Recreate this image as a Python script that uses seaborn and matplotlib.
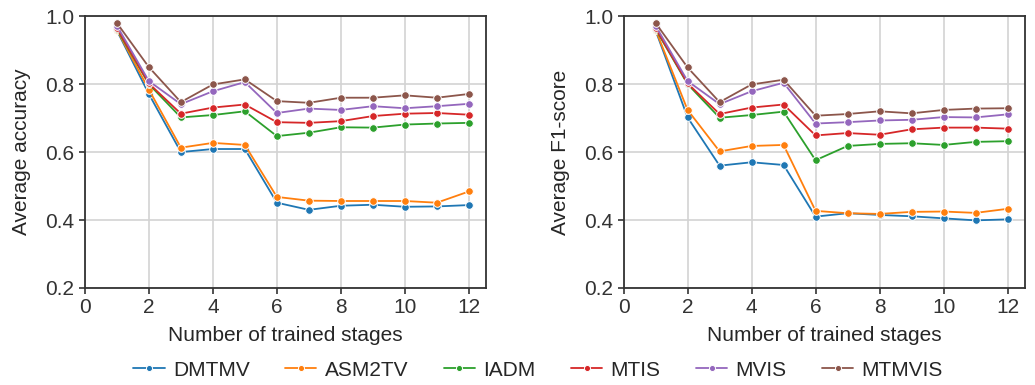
import matplotlib.pyplot as plt
import seaborn as sns
import pandas as pd

# Values
stages = [1, 2, 3, 4, 5, 6, 7, 8, 9, 10, 11, 12]
methods = ['DMTMV', 'ASM2TV', 'IADM', 'MTIS', 'MVIS', 'MTMVIS']

acc_dmtmv = [0.958, 0.771, 0.600, 0.609, 0.609, 0.451, 0.430, 0.442, 0.445, 0.439, 0.440, 0.444]
acc_asm2tv = [0.960, 0.784, 0.613, 0.627, 0.621, 0.468, 0.457, 0.456, 0.456, 0.456, 0.451, 0.484]
acc_iadm = [0.962, 0.800, 0.702, 0.709, 0.720, 0.647, 0.657, 0.673, 0.672, 0.681, 0.684, 0.686]
acc_mtis = [0.965, 0.802, 0.713, 0.731, 0.740, 0.688, 0.686, 0.691, 0.706, 0.713, 0.715, 0.710]
acc_mvis = [0.972, 0.809, 0.741, 0.779, 0.806, 0.715, 0.728, 0.724, 0.735, 0.729, 0.735, 0.742]
acc_mtmvis = [0.980, 0.850, 0.747, 0.799, 0.814, 0.750, 0.745, 0.760, 0.760, 0.767, 0.760, 0.771]

f1_dmtmv = [0.958, 0.702, 0.560, 0.570, 0.562, 0.410, 0.420, 0.415, 0.411, 0.405, 0.399, 0.402]
f1_asm2tv = [0.960, 0.724, 0.602, 0.618, 0.621, 0.427, 0.420, 0.418, 0.424, 0.425, 0.421, 0.433]
f1_iadm = [0.962, 0.800, 0.701, 0.709, 0.719, 0.576, 0.618, 0.624, 0.626, 0.621, 0.630, 0.632]
f1_mtis = [0.965, 0.802, 0.712, 0.731, 0.740, 0.649, 0.656, 0.651, 0.667, 0.672, 0.672, 0.669]
f1_mvis = [0.972, 0.809, 0.741, 0.779, 0.804, 0.684, 0.688, 0.693, 0.695, 0.703, 0.702, 0.711]
f1_mtmvis = [0.980, 0.849, 0.747, 0.799, 0.813, 0.707, 0.712, 0.720, 0.714, 0.724, 0.728, 0.729]

acc_values = [acc_dmtmv, acc_asm2tv, acc_iadm, acc_mtis, acc_mvis, acc_mtmvis]
f1_values = [f1_dmtmv, f1_asm2tv, f1_iadm, f1_mtis, f1_mvis, f1_mtmvis]


def to_long(series_list):
    rows = []
    for name, vals in zip(methods, series_list):
        for s, v in zip(stages, vals):
            rows.append({'Stage': s, 'Value': v, 'Method': name})
    return pd.DataFrame(rows)


acc_df = to_long(acc_values)
f1_df = to_long(f1_values)

sns.set_style('ticks')
plt.rcParams['font.family'] = ['Liberation Sans', 'DejaVu Sans']
plt.rcParams['axes.edgecolor'] = '#333333'
plt.rcParams['xtick.color'] = '#333333'
plt.rcParams['ytick.color'] = '#333333'

fig = plt.figure(figsize=(10.35, 3.85), dpi=100)
ax1 = fig.add_axes([0.082, 0.252, 0.388, 0.706])
ax2 = fig.add_axes([0.6025, 0.252, 0.388, 0.706])

palette = sns.color_palette('tab10', 6)

for ax, df, ylabel in [(ax1, acc_df, 'Average accuracy'), (ax2, f1_df, 'Average F1-score')]:
    sns.lineplot(data=df, x='Stage', y='Value', hue='Method', hue_order=methods,
                 palette=palette, marker='o', markersize=5.5, markeredgecolor='white',
                 markeredgewidth=0.7, linewidth=1.3, ax=ax, legend=(ax is ax1))
    ax.set_xlim(0, 12.55)
    ax.set_ylim(0.2, 1.0)
    ax.set_xticks([0, 2, 4, 6, 8, 10, 12])
    ax.set_yticks([0.2, 0.4, 0.6, 0.8, 1.0])
    ax.grid(True, color='#d3d3d3', linewidth=1.2)
    ax.set_axisbelow(True)
    ax.tick_params(labelsize=15, length=4, width=1.2)
    for sp in ax.spines.values():
        sp.set_linewidth(1.3)
    ax.set_xlabel('Number of trained stages', fontsize=15, labelpad=6)
    ax.set_ylabel(ylabel, fontsize=15, labelpad=10)

handles, labels = ax1.get_legend_handles_labels()
ax1.get_legend().remove()
fig.legend(handles, labels, loc='lower center', ncol=6, frameon=False, fontsize=15,
           bbox_to_anchor=(0.52, -0.035), handlelength=1.5, columnspacing=1.7,
           handletextpad=0.4, markerscale=0.8)

plt.savefig('out.png', dpi=100)
